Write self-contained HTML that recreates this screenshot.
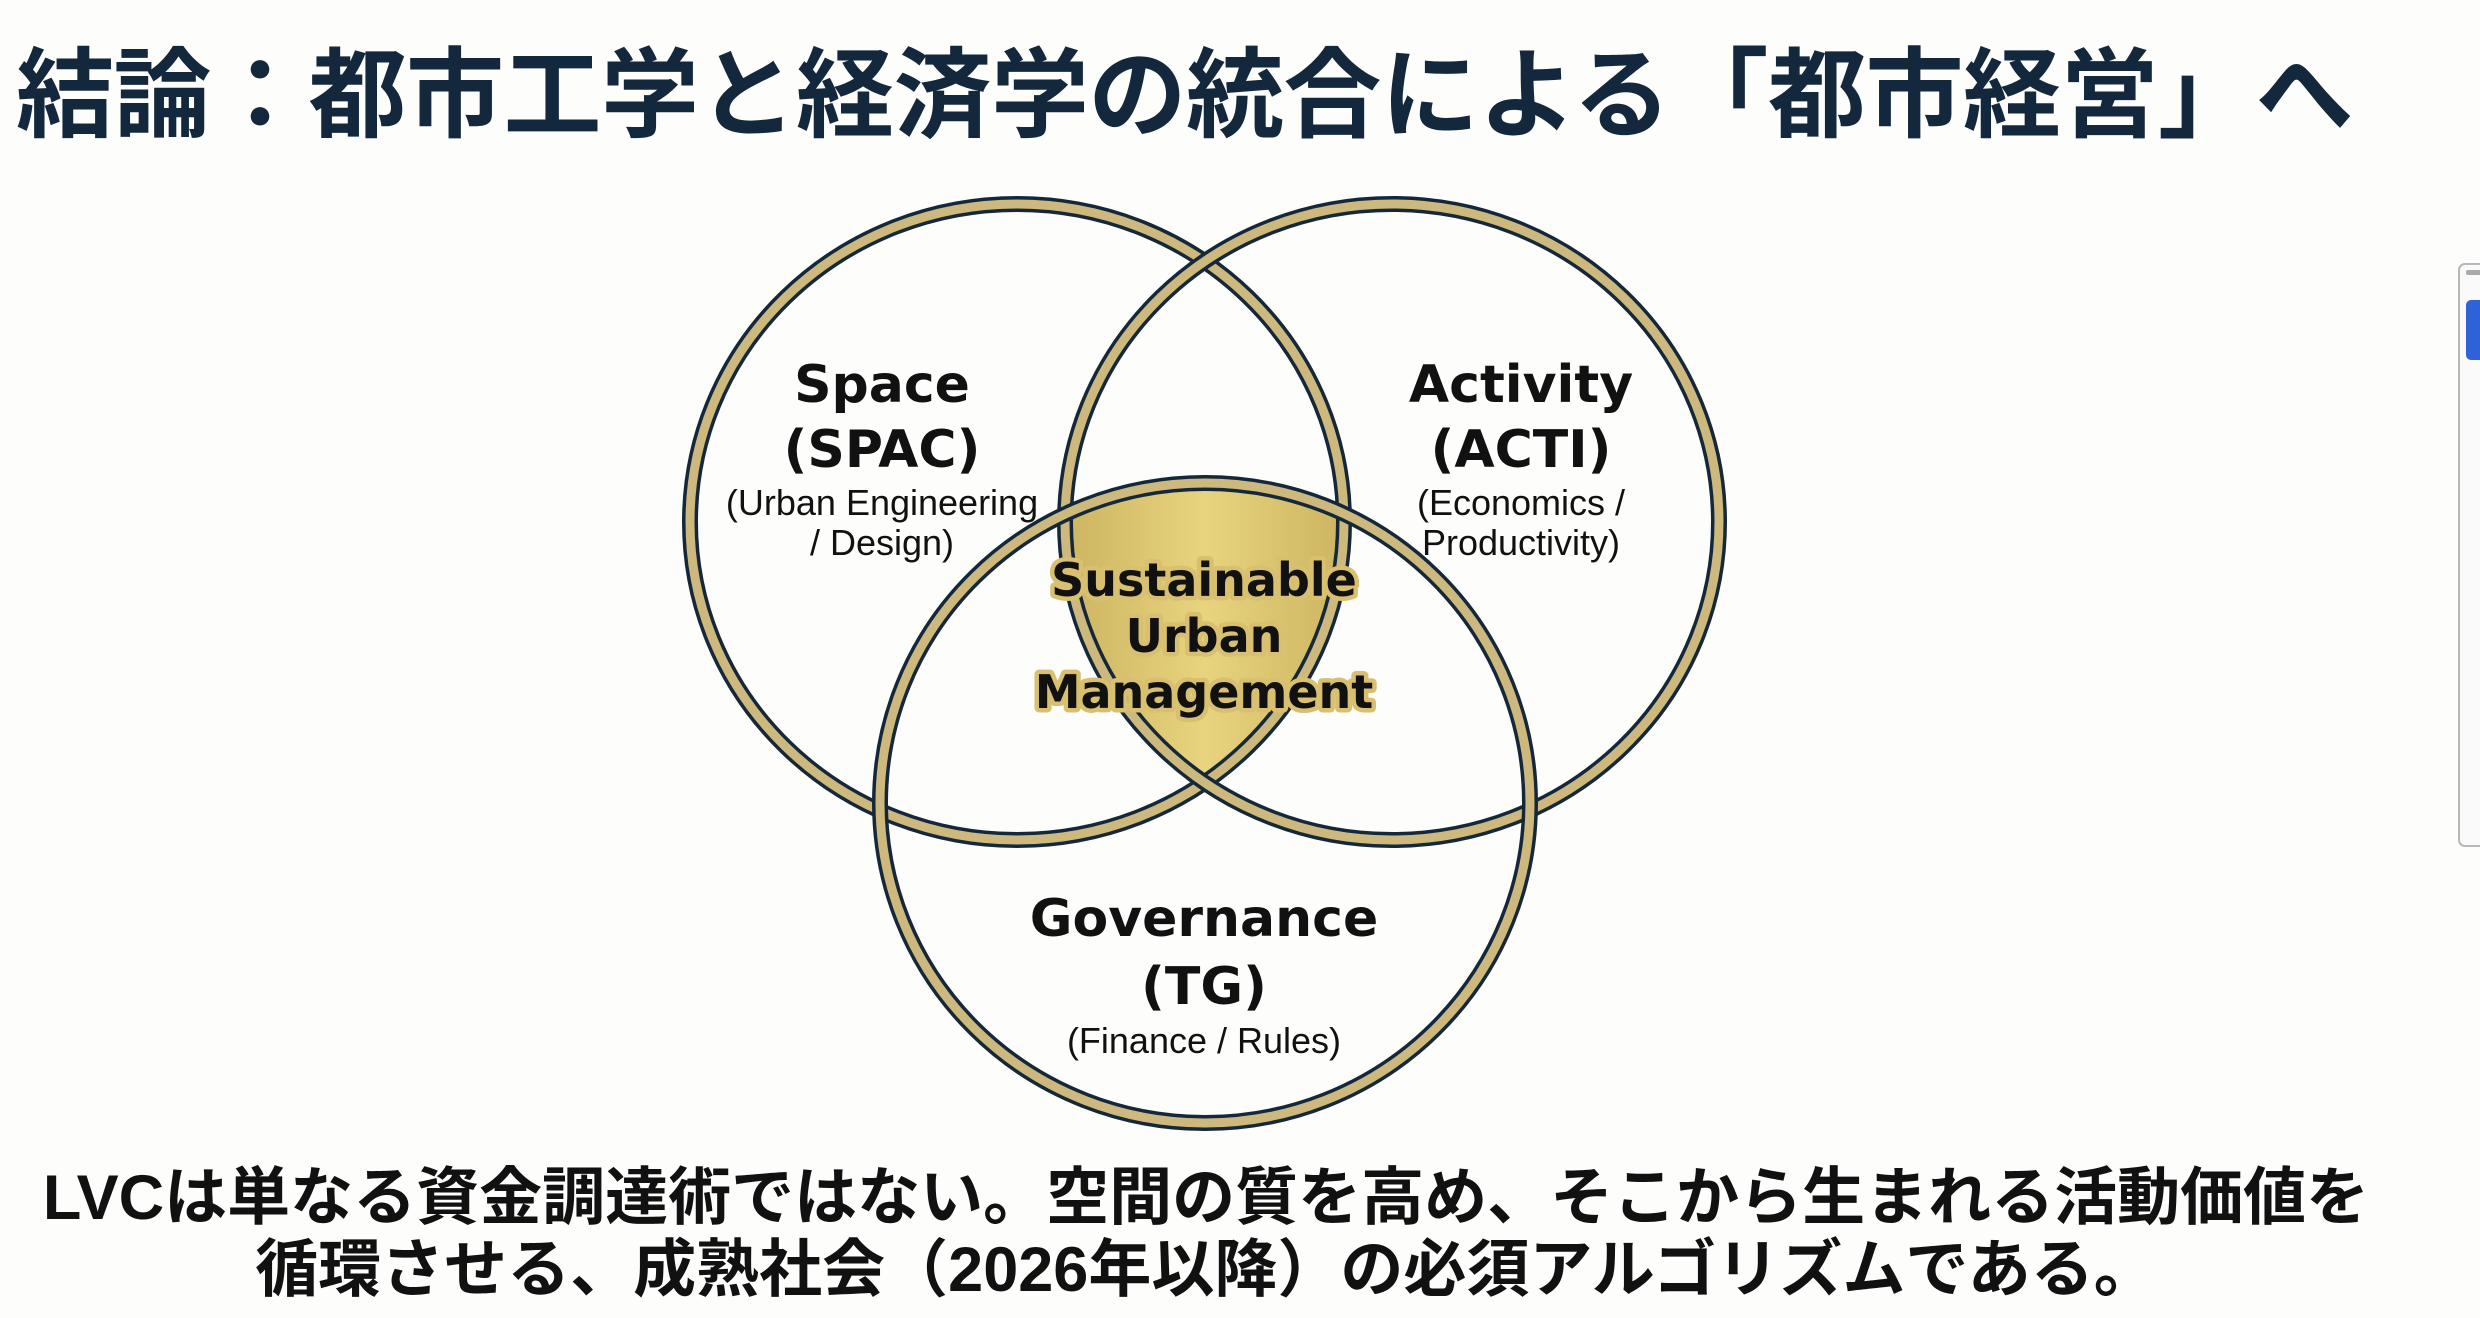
<!DOCTYPE html>
<html><head><meta charset="utf-8"><style>
html,body{margin:0;padding:0;background:#fdfdfc;}
body{width:2480px;height:1318px;overflow:hidden;position:relative;font-family:"Liberation Sans","Noto Sans CJK JP",sans-serif;}
.t{position:absolute;white-space:nowrap;}
</style></head><body>
<div class="t" style="left:16px;top:16px;font-size:98px;font-weight:bold;color:#13283c;letter-spacing:-0.5px;">結論：都市工学と経済学の統合による「都市経営」へ</div>
<svg width="2480" height="1318" style="position:absolute;left:0;top:0">
<defs>
<linearGradient id="g" x1="0" x2="1" y1="0" y2="0">
<stop offset="0" stop-color="#a88a3a"/><stop offset="0.5" stop-color="#e8d47e"/><stop offset="1" stop-color="#a88a3a"/>
</linearGradient>
<clipPath id="c1"><ellipse cx="1017" cy="522" rx="327" ry="318"/></clipPath>
<clipPath id="c2"><ellipse cx="1392" cy="522" rx="327" ry="318"/></clipPath>
</defs>
<g clip-path="url(#c1)"><g clip-path="url(#c2)">
<ellipse cx="1205" cy="803" rx="325" ry="320" fill="url(#g)"/>
</g></g>
<g fill="none">
<ellipse cx="1017" cy="522" rx="327" ry="318" stroke="#14283a" stroke-width="16"/>
<ellipse cx="1017" cy="522" rx="327" ry="318" stroke="#cdb97e" stroke-width="9"/>
<ellipse cx="1392" cy="522" rx="327" ry="318" stroke="#14283a" stroke-width="16"/>
<ellipse cx="1392" cy="522" rx="327" ry="318" stroke="#cdb97e" stroke-width="9"/>
<ellipse cx="1205" cy="803" rx="325" ry="320" stroke="#14283a" stroke-width="16"/>
<ellipse cx="1205" cy="803" rx="325" ry="320" stroke="#cdb97e" stroke-width="9"/>
</g>
<g font-family="DejaVu Sans, sans-serif" text-anchor="middle" fill="#111">
<g font-size="52" font-weight="bold">
<text x="882" y="402">Space</text>
<text x="882" y="467">(SPAC)</text>
<text x="1521" y="402">Activity</text>
<text x="1521" y="467">(ACTI)</text>
<text x="1204" y="936">Governance</text>
<text x="1204" y="1004">(TG)</text>
</g>
<g font-family="Liberation Sans, sans-serif" font-size="36">
<text x="882" y="515">(Urban Engineering</text>
<text x="882" y="555">/ Design)</text>
<text x="1521" y="515">(Economics /</text>
<text x="1521" y="555">Productivity)</text>
<text x="1204" y="1053">(Finance / Rules)</text>
</g>
<g font-size="46" font-weight="bold" stroke="#d8c070" stroke-width="9" stroke-linejoin="round" paint-order="stroke">
<text x="1204" y="596">Sustainable</text>
<text x="1204" y="652">Urban</text>
<text x="1204" y="708">Management</text>
</g>
</g>
<rect x="2459" y="264" width="30" height="582" rx="6" fill="#fafafa" stroke="#b8b8b8" stroke-width="2"/>
<rect x="2466" y="300" width="20" height="60" rx="5" fill="#2d62d8"/>
<rect x="2466" y="270" width="20" height="5" rx="2" fill="#aaa"/>
</svg>
<div class="t" style="left:0;width:2412px;text-align:center;top:1162px;font-size:63px;font-weight:bold;color:#111;line-height:72px;">LVCは単なる資金調達術ではない。空間の質を高め、そこから生まれる活動価値を<br>循環させる、成熟社会（2026年以降）の必須アルゴリズムである。</div>
</body></html>
